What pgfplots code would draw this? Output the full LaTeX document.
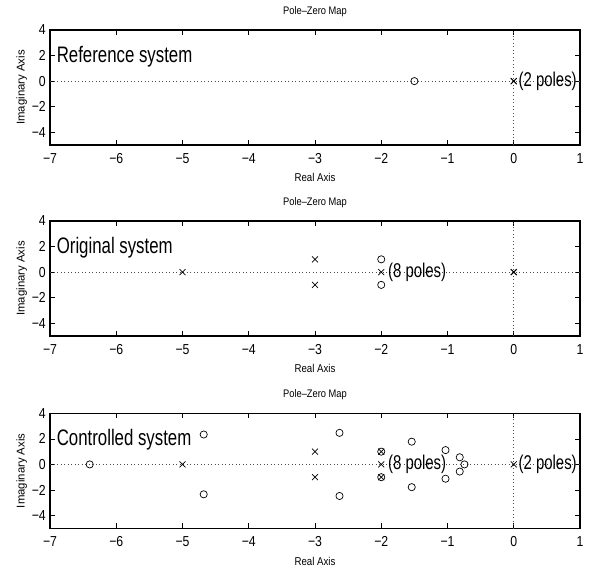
\documentclass[border=0pt]{standalone}
\usepackage{fontspec}
\setmainfont{Liberation Sans}[FakeStretch=0.85]
\newfontfamily\bigsans{Liberation Sans}[FakeStretch=0.75]
\newfontfamily\plainsans{Liberation Sans}
\usepackage{pgfplots}
\pgfplotsset{compat=1.18}
\tikzset{
  pzbig/.style={anchor=west, inner sep=0pt, font=\bigsans\fontsize{22.5}{22.5}\selectfont},
  pzlab/.style={anchor=west, inner sep=0pt, font=\bigsans\fontsize{20}{20}\selectfont},
  pztitle/.style={anchor=center, inner sep=0pt, font=\fontsize{11}{11}\selectfont},
}
\begin{document}
\begin{tikzpicture}
\useasboundingbox (0,0) rectangle (595bp,570bp);
\pgfplotsset{
  pz/.style={
    scale only axis, width=530bp, height=115bp,
    xmin=-7, xmax=1, ymin=-5, ymax=4,
    xtick={-7,-6,-5,-4,-3,-2,-1,0,1},
    xticklabels={−7,−6,−5,−4,−3,−2,−1,0,1},
    ytick={-4,-2,0,2,4},
    yticklabels={−4,−2,0,2,4},
    tick align=inside, major tick length=5bp,
    tick style={black, line width=0.6bp},
    axis line style={line width=1.1bp},
    tick label style={font=\fontsize{14.5}{14.5}\selectfont},
    xticklabel style={anchor=center, yshift=-13.5bp},
    yticklabel style={anchor=east, inner sep=0pt, xshift=-4bp},
    xlabel={Real Axis}, ylabel={Imaginary Axis},
    xlabel style={at={(axis description cs:0.5,-0.284)}, anchor=center, font=\fontsize{11.4}{11.4}\selectfont},
    ylabel style={at={(axis description cs:-0.0534,0.5)}, anchor=center, font=\plainsans\fontsize{11.4}{11.4}\selectfont},
    clip=false,
  },
  zl/.style={black!70, dash pattern=on 0.7bp off 2.8bp, line width=0.7bp, forget plot},
  pol/.style={only marks, mark=x, mark size=4.2bp, black, mark options={line width=0.7bp}},
  zer/.style={only marks, mark=o, mark size=3.6bp, black, mark options={line width=0.7bp}},
}
% Panel 1: reference system
\begin{axis}[pz, at={(50bp,425bp)}, anchor=south west]
\addplot[zl] coordinates {(-7,0) (1,0)};
\addplot[zl] coordinates {(0,-5) (0,4)};
\addplot[zer] coordinates {(-1.5,0)};
\addplot[pol] coordinates {(0,0) (0,0)};
\node[pzbig] at (axis cs:-6.9,1.9) {Reference system};
\node[pzlab] at (axis cs:0.07,0) {(2 poles)};
\node[pztitle] at (rel axis cs:0.5,1.159) {Pole–Zero Map};
\end{axis}
% Panel 2: original system
\begin{axis}[pz, at={(50bp,234bp)}, anchor=south west]
\addplot[zl] coordinates {(-7,0) (1,0)};
\addplot[zl] coordinates {(0,-5) (0,4)};
\addplot[zer] coordinates {(-2,1) (-2,-1)};
\addplot[pol] coordinates {(-5,0) (-3,1) (-3,-1) (-2,0)};
\addplot[pol, mark options={line width=1.1bp}] coordinates {(0,0)};
\node[pzbig] at (axis cs:-6.9,1.9) {Original system};
\node[pzlab] at (axis cs:-1.9,0) {(8 poles)};
\node[pztitle] at (rel axis cs:0.5,1.159) {Pole–Zero Map};
\end{axis}
% Panel 3: controlled system
\begin{axis}[pz, at={(50bp,41.7bp)}, anchor=south west]
\addplot[zl] coordinates {(-7,0) (1,0)};
\addplot[zl] coordinates {(0,-5) (0,4)};
\addplot[zer] coordinates {
 (-6.40,0) (-4.68,2.34) (-4.68,-2.34) (-2.63,2.47) (-2.63,-2.47)
 (-2,1) (-2,-1) (-1.54,1.78) (-1.54,-1.78) (-1.03,1.12) (-1.03,-1.12)
 (-0.815,0.56) (-0.815,-0.56) (-0.744,0)};
\addplot[pol] coordinates {(-5,0) (-3,1) (-3,-1) (-2,1) (-2,-1) (-2,0) (0,0)};
\node[pzbig] at (axis cs:-6.9,1.9) {Controlled system};
\node[pzlab] at (axis cs:-1.9,0) {(8 poles)};
\node[pzlab] at (axis cs:0.07,0) {(2 poles)};
\node[pztitle] at (rel axis cs:0.5,1.159) {Pole–Zero Map};
\end{axis}
\end{tikzpicture}
\end{document}
